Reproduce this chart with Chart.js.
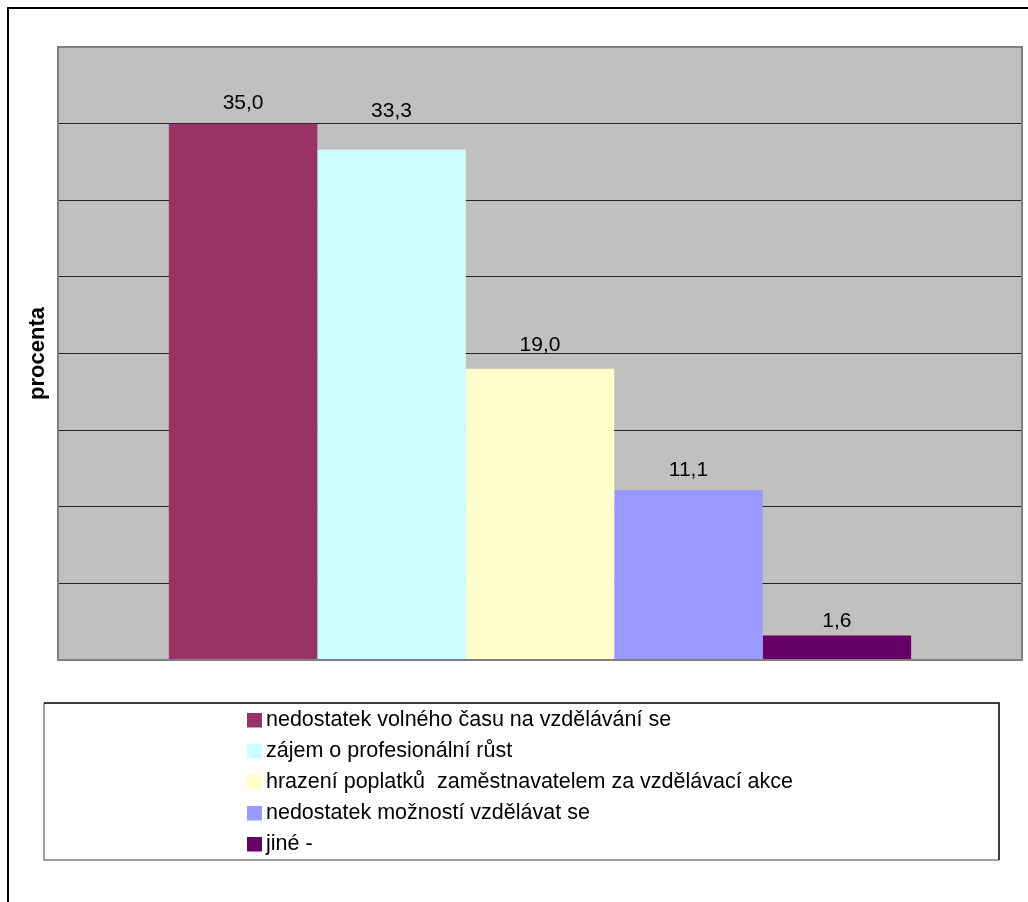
<!DOCTYPE html>
<html>
<head>
<meta charset="utf-8">
<script src="https://cdn.jsdelivr.net/npm/chart.js@4/dist/chart.umd.min.js"></script>
<style>
  html, body { margin: 0; padding: 0; background: #fff; }
  canvas { display: block; }
</style>
</head>
<body>
<canvas id="chart" width="1028" height="902"></canvas>
<script>
// Survey answers (percent of respondents)
const categories = [
  'nedostatek volného času na vzdělávání se',
  'zájem o profesionální růst',
  'hrazení poplatků  zaměstnavatelem za vzdělávací akce',
  'nedostatek možností vzdělávat se',
  'jiné -'
];
const values = [35.0, 33.3, 19.0, 11.1, 1.6];
const colors = ['#993366', '#CCFFFF', '#FFFFCC', '#9999FF', '#660066'];
const axisTitle = 'procenta';
const yMin = 0, yMax = 40, yStep = 5;

const FONT = '"Liberation Sans", Arial, sans-serif';
const fmt = v => v.toFixed(1).replace('.', ',');

// gap (px) between each value label's baseline and its bar top
const labelGap = [15, 33, 18, 14, 8];

const datasets = categories.map((name, i) => ({
  label: name,
  data: [values[i]],
  backgroundColor: colors[i],
  borderWidth: 0,
  barPercentage: 1.0,
  categoryPercentage: 0.77
}));

// Page frame, grey plot background and plot border
const framePlugin = {
  id: 'frame',
  beforeDraw(chart) {
    const { ctx, chartArea: a } = chart;
    ctx.save();
    ctx.fillStyle = '#fff';
    ctx.fillRect(0, 0, chart.width, chart.height);
    ctx.fillStyle = '#C0C0C0';
    ctx.fillRect(a.left, a.top, a.right - a.left, a.bottom - a.top);
    // outer frame (top and left edges)
    ctx.strokeStyle = '#000';
    ctx.lineWidth = 2;
    ctx.beginPath();
    ctx.moveTo(8, chart.height);
    ctx.lineTo(8, 8);
    ctx.lineTo(chart.width, 8);
    ctx.stroke();
    ctx.restore();
  },
  afterDatasetsDraw(chart) {
    const { ctx, chartArea: a } = chart;
    ctx.save();
    ctx.strokeStyle = '#808080';
    ctx.lineWidth = 2;
    ctx.strokeRect(a.left, a.top, a.right - a.left, a.bottom - a.top);
    ctx.restore();
  }
};

// Value labels above each bar
const valueLabels = {
  id: 'valueLabels',
  afterDatasetsDraw(chart) {
    const { ctx } = chart;
    ctx.save();
    ctx.font = '21px ' + FONT;
    ctx.fillStyle = '#000';
    ctx.textAlign = 'center';
    ctx.textBaseline = 'alphabetic';
    chart.data.datasets.forEach((ds, i) => {
      const bar = chart.getDatasetMeta(i).data[0];
      ctx.fillText(fmt(ds.data[0]), bar.x, bar.y - labelGap[i]);
    });
    ctx.restore();
  }
};

// Rotated axis title
const yTitle = {
  id: 'yTitle',
  afterDraw(chart) {
    const { ctx, chartArea: a } = chart;
    ctx.save();
    ctx.translate(38, (a.top + a.bottom) / 2);
    ctx.rotate(-Math.PI / 2);
    ctx.font = 'bold 22px ' + FONT;
    ctx.fillStyle = '#000';
    ctx.textAlign = 'center';
    ctx.textBaseline = 'middle';
    ctx.fillText(axisTitle, 0, 0);
    ctx.restore();
  }
};

// Boxed legend under the plot
const boxLegend = {
  id: 'boxLegend',
  afterDraw(chart) {
    const { ctx } = chart;
    const L = 44, T = 703, R = 999, B = 860;
    ctx.save();
    ctx.lineWidth = 1.5;
    ctx.strokeStyle = '#808080';
    ctx.beginPath();
    ctx.moveTo(L, T); ctx.lineTo(L, B); ctx.lineTo(R, B);
    ctx.stroke();
    ctx.strokeStyle = '#000';
    ctx.beginPath();
    ctx.moveTo(L, T); ctx.lineTo(R, T); ctx.lineTo(R, B);
    ctx.stroke();

    ctx.font = '21.5px ' + FONT;
    ctx.textAlign = 'left';
    ctx.textBaseline = 'alphabetic';
    chart.data.datasets.forEach((ds, i) => {
      const top = 713 + i * 31;
      ctx.fillStyle = ds.backgroundColor;
      ctx.fillRect(247, top, 15, 14.5);
      ctx.fillStyle = '#000';
      ctx.fillText(ds.label, 266, top + 13);
    });
    ctx.restore();
  }
};

new Chart(document.getElementById('chart'), {
  type: 'bar',
  data: { labels: [''], datasets },
  options: {
    responsive: false,
    animation: false,
    layout: { padding: { left: 58, top: 47, right: 6, bottom: 242 } },
    plugins: { legend: { display: false }, tooltip: { enabled: false } },
    scales: {
      x: {
        ticks: { display: false },
        grid: { display: false },
        border: { display: false },
        afterFit(s) { s.height = 0; }
      },
      y: {
        min: yMin, max: yMax,
        ticks: { display: false, stepSize: yStep },
        grid: { color: '#222', lineWidth: 1, drawTicks: false },
        border: { display: false },
        afterFit(s) { s.width = 0; }
      }
    }
  },
  plugins: [framePlugin, valueLabels, yTitle, boxLegend]
});
</script>
</body>
</html>
